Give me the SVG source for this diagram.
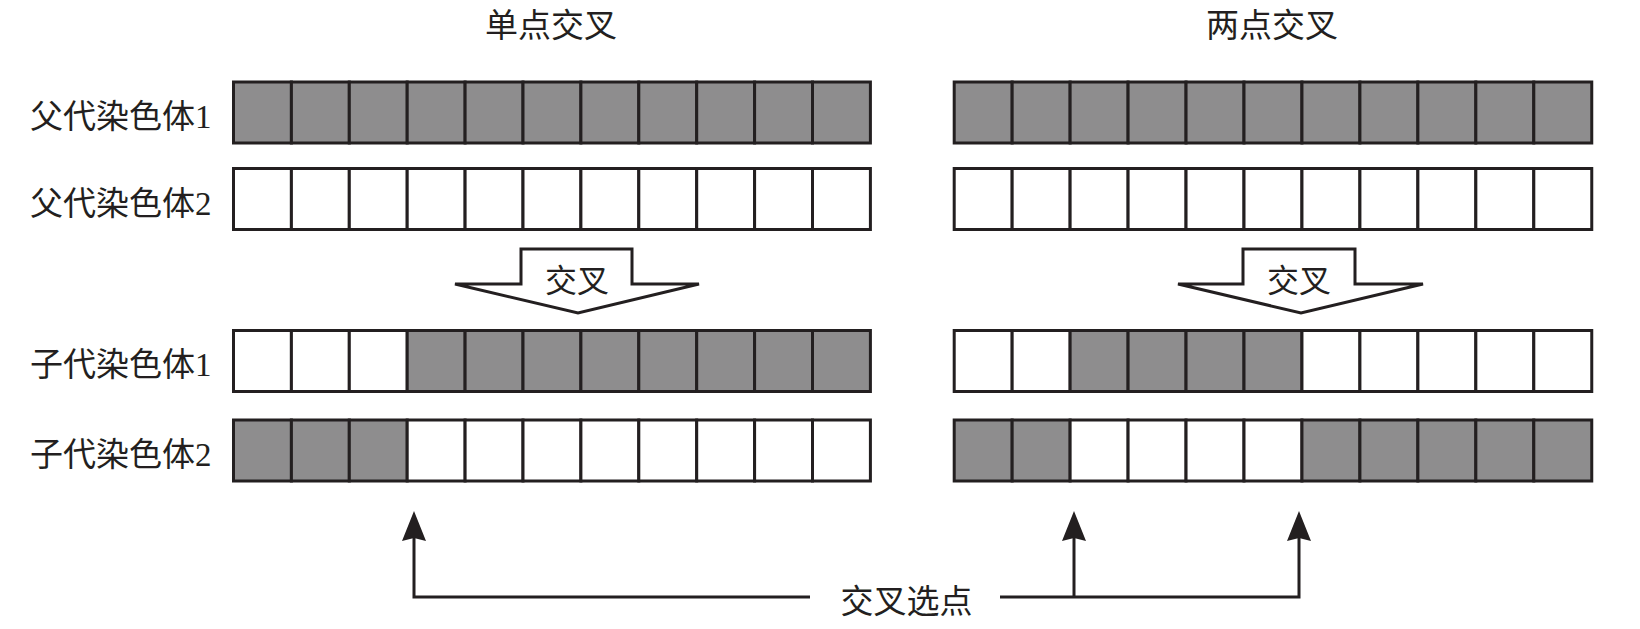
<svg xmlns="http://www.w3.org/2000/svg" width="1640" height="629" viewBox="0 0 1640 629">
<style>
.t{font-family:"Liberation Serif","Noto Sans CJK SC",serif;font-size:33px;fill:#231f20}
.s{font-size:32px}
.m{text-anchor:middle}
.g{fill:#8e8d8e;stroke:#231f20;stroke-width:3}
.w{fill:#ffffff;stroke:#231f20;stroke-width:3}
.big{fill:#ffffff;stroke:#231f20;stroke-width:3;stroke-linejoin:miter}
.ln{fill:none;stroke:#231f20;stroke-width:3}
.hd{fill:#231f20}
</style>
<defs>
<rect id="cL" width="57.9" height="61"/>
<rect id="cR" width="57.96" height="61"/>
</defs>
<rect width="1640" height="629" fill="#ffffff"/>
<g id="titles">
<text class="t m" x="551" y="37">单点交叉</text>
<text class="t m" x="1272" y="37">两点交叉</text>
</g>
<g id="labels">
<text class="t" x="30" y="127.5">父代染色体1</text>
<text class="t" x="30" y="214.5">父代染色体2</text>
<text class="t" x="30" y="376">子代染色体1</text>
<text class="t" x="30" y="465.5">子代染色体2</text>
</g>
<g id="left-parent1">
<use href="#cL" class="g" x="233.5" y="82"/><use href="#cL" class="g" x="291.4" y="82"/><use href="#cL" class="g" x="349.3" y="82"/><use href="#cL" class="g" x="407.2" y="82"/><use href="#cL" class="g" x="465.1" y="82"/><use href="#cL" class="g" x="523" y="82"/><use href="#cL" class="g" x="580.9" y="82"/><use href="#cL" class="g" x="638.8" y="82"/><use href="#cL" class="g" x="696.7" y="82"/><use href="#cL" class="g" x="754.6" y="82"/><use href="#cL" class="g" x="812.5" y="82"/>
</g>
<g id="left-parent2">
<use href="#cL" class="w" x="233.5" y="168.5"/><use href="#cL" class="w" x="291.4" y="168.5"/><use href="#cL" class="w" x="349.3" y="168.5"/><use href="#cL" class="w" x="407.2" y="168.5"/><use href="#cL" class="w" x="465.1" y="168.5"/><use href="#cL" class="w" x="523" y="168.5"/><use href="#cL" class="w" x="580.9" y="168.5"/><use href="#cL" class="w" x="638.8" y="168.5"/><use href="#cL" class="w" x="696.7" y="168.5"/><use href="#cL" class="w" x="754.6" y="168.5"/><use href="#cL" class="w" x="812.5" y="168.5"/>
</g>
<g id="left-child1">
<use href="#cL" class="w" x="233.5" y="330.5"/><use href="#cL" class="w" x="291.4" y="330.5"/><use href="#cL" class="w" x="349.3" y="330.5"/><use href="#cL" class="g" x="407.2" y="330.5"/><use href="#cL" class="g" x="465.1" y="330.5"/><use href="#cL" class="g" x="523" y="330.5"/><use href="#cL" class="g" x="580.9" y="330.5"/><use href="#cL" class="g" x="638.8" y="330.5"/><use href="#cL" class="g" x="696.7" y="330.5"/><use href="#cL" class="g" x="754.6" y="330.5"/><use href="#cL" class="g" x="812.5" y="330.5"/>
</g>
<g id="left-child2">
<use href="#cL" class="g" x="233.5" y="420"/><use href="#cL" class="g" x="291.4" y="420"/><use href="#cL" class="g" x="349.3" y="420"/><use href="#cL" class="w" x="407.2" y="420"/><use href="#cL" class="w" x="465.1" y="420"/><use href="#cL" class="w" x="523" y="420"/><use href="#cL" class="w" x="580.9" y="420"/><use href="#cL" class="w" x="638.8" y="420"/><use href="#cL" class="w" x="696.7" y="420"/><use href="#cL" class="w" x="754.6" y="420"/><use href="#cL" class="w" x="812.5" y="420"/>
</g>
<g id="right-parent1">
<use href="#cR" class="g" x="954.2" y="82"/><use href="#cR" class="g" x="1012.16" y="82"/><use href="#cR" class="g" x="1070.12" y="82"/><use href="#cR" class="g" x="1128.08" y="82"/><use href="#cR" class="g" x="1186.04" y="82"/><use href="#cR" class="g" x="1244" y="82"/><use href="#cR" class="g" x="1301.96" y="82"/><use href="#cR" class="g" x="1359.92" y="82"/><use href="#cR" class="g" x="1417.88" y="82"/><use href="#cR" class="g" x="1475.84" y="82"/><use href="#cR" class="g" x="1533.8" y="82"/>
</g>
<g id="right-parent2">
<use href="#cR" class="w" x="954.2" y="168.5"/><use href="#cR" class="w" x="1012.16" y="168.5"/><use href="#cR" class="w" x="1070.12" y="168.5"/><use href="#cR" class="w" x="1128.08" y="168.5"/><use href="#cR" class="w" x="1186.04" y="168.5"/><use href="#cR" class="w" x="1244" y="168.5"/><use href="#cR" class="w" x="1301.96" y="168.5"/><use href="#cR" class="w" x="1359.92" y="168.5"/><use href="#cR" class="w" x="1417.88" y="168.5"/><use href="#cR" class="w" x="1475.84" y="168.5"/><use href="#cR" class="w" x="1533.8" y="168.5"/>
</g>
<g id="right-child1">
<use href="#cR" class="w" x="954.2" y="330.5"/><use href="#cR" class="w" x="1012.16" y="330.5"/><use href="#cR" class="g" x="1070.12" y="330.5"/><use href="#cR" class="g" x="1128.08" y="330.5"/><use href="#cR" class="g" x="1186.04" y="330.5"/><use href="#cR" class="g" x="1244" y="330.5"/><use href="#cR" class="w" x="1301.96" y="330.5"/><use href="#cR" class="w" x="1359.92" y="330.5"/><use href="#cR" class="w" x="1417.88" y="330.5"/><use href="#cR" class="w" x="1475.84" y="330.5"/><use href="#cR" class="w" x="1533.8" y="330.5"/>
</g>
<g id="right-child2">
<use href="#cR" class="g" x="954.2" y="420"/><use href="#cR" class="g" x="1012.16" y="420"/><use href="#cR" class="w" x="1070.12" y="420"/><use href="#cR" class="w" x="1128.08" y="420"/><use href="#cR" class="w" x="1186.04" y="420"/><use href="#cR" class="w" x="1244" y="420"/><use href="#cR" class="g" x="1301.96" y="420"/><use href="#cR" class="g" x="1359.92" y="420"/><use href="#cR" class="g" x="1417.88" y="420"/><use href="#cR" class="g" x="1475.84" y="420"/><use href="#cR" class="g" x="1533.8" y="420"/>
</g>
<g id="cross-arrow-left">
<polygon class="big" points="521,249 632,249 632,284 699,284 578,313 455,284 521,284"/>
<text class="t s m" x="577" y="292">交叉</text>
</g>
<g id="cross-arrow-right">
<polygon class="big" points="1243,249 1355,249 1355,284 1423,284 1301,313 1178,284 1243,284"/>
<text class="t s m" x="1299" y="292">交叉</text>
</g>
<g id="crosspoint-label">
<text class="t m" x="906.5" y="613">交叉选点</text>
</g>
<g id="connectors">
<path class="ln" d="M414,538 V597 H810"/>
<path class="ln" d="M1000,597 H1299 V538"/>
<path class="ln" d="M1074,597 V538"/>
<polygon class="hd" points="414,511 426,541 414,538 402,541"/>
<polygon class="hd" points="1074,511 1086,541 1074,538 1062,541"/>
<polygon class="hd" points="1299,511 1311,541 1299,538 1287,541"/>
</g>
</svg>
